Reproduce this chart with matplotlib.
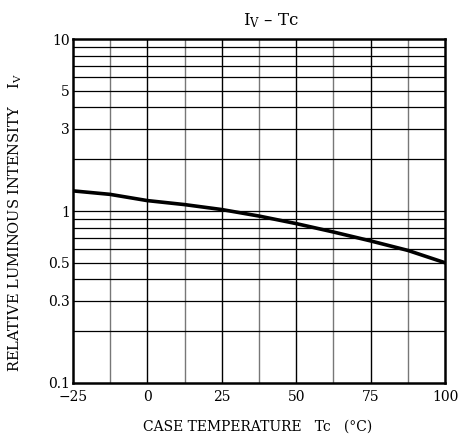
import matplotlib
matplotlib.use('Agg')
import matplotlib.pyplot as plt
import numpy as np

# case temperature (deg C) vs relative luminous intensity
temp = [-25, -12.5, 0, 12.5, 25, 37.5, 50, 62.5, 75, 87.5, 100]
iv = [1.31, 1.25, 1.15, 1.09, 1.02, 0.935, 0.845, 0.755, 0.67, 0.59, 0.50]

xticks = [-25, 0, 25, 50, 75, 100]
xticklabels = ['\u221225', '0', '25', '50', '75', '100']
yticks = [0.1, 0.3, 0.5, 1, 3, 5, 10]
yticklabels = ['0.1', '0.3', '0.5', '1', '3', '5', '10']

plt.rcParams['font.family'] = 'DejaVu Serif'
plt.rcParams['mathtext.fontset'] = 'dejavuserif'

fig = plt.figure(figsize=(4.58, 4.37), dpi=100)
ax = fig.add_axes([0.159, 0.1236, 0.813, 0.787])

ax.set_yscale('log')
ax.set_xlim(-25, 100)
ax.set_ylim(0.1, 10)

# grid: vertical every 12.5 (majors black, halves gray), horizontal log grid
for x in np.arange(-12.5, 100, 12.5):
    if x % 25 == 0:
        ax.axvline(x, color='black', lw=1.0, zorder=1)
    else:
        ax.axvline(x, color='#777777', lw=1.0, zorder=1)
for dec in [0.1, 1]:
    for k in range(2, 10):
        ax.axhline(dec * k, color='black', lw=0.9, zorder=1)
ax.axhline(1, color='black', lw=0.9, zorder=1)

ax.plot(temp, iv, color='black', lw=2.6, zorder=3)

ax.set_xticks(xticks)
ax.set_xticklabels(xticklabels, fontsize=10)
ax.set_yticks(yticks)
ax.set_yticklabels(yticklabels, fontsize=10)
ax.yaxis.set_minor_locator(matplotlib.ticker.NullLocator())
ax.tick_params(axis='x', length=0, pad=5)
ax.tick_params(axis='y', length=0, pad=2)
for s in ax.spines.values():
    s.set_linewidth(1.8)

# axis titles placed in figure coords
fig.text(0.563, 0.024, 'CASE TEMPERATURE   Tc   (\u00b0C)', fontsize=10,
         ha='center', va='center')
fig.text(0.033, 0.49, 'RELATIVE LUMINOUS INTENSITY    I$_{\\mathrm{V}}$', fontsize=10.5,
         rotation=90, ha='center', va='center')
fig.text(0.592, 0.943, 'I$_{\\mathrm{V}}$ \u2013 Tc', fontsize=12, ha='center', va='baseline')

fig.savefig('out.png', dpi=100)
